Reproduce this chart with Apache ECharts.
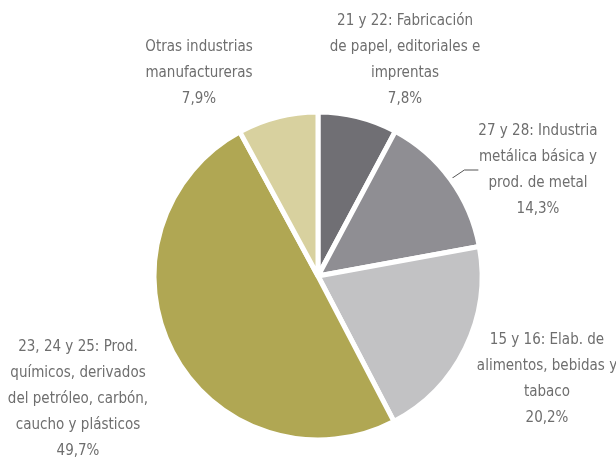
<!DOCTYPE html>
<html>
<head>
<meta charset="utf-8">
<script src="https://cdn.jsdelivr.net/npm/echarts@6/dist/echarts.min.js"></script>
<style>
  html, body { margin: 0; padding: 0; background: #fff; }
  #chart { width: 616px; height: 458px; }
</style>
</head>
<body>
<div id="chart"></div>
<script>
// categorías y porcentajes (en sentido horario desde las 12)
const categories = [
  '21 y 22: Fabricación\nde papel, editoriales e\nimprentas',
  '27 y 28: Industria\nmetálica básica y\nprod. de metal',
  '15 y 16: Elab. de\nalimentos, bebidas y\ntabaco',
  '23, 24 y 25: Prod.\nquímicos, derivados\ndel petróleo, carbón,\ncaucho y plásticos',
  'Otras industrias\nmanufactureras'
]
const shares = [7.8, 14.3, 20.2, 49.7, 7.9]
const colors = ['#706f74', '#8f8e93', '#c2c2c4', '#b0a753', '#d8d19f']

// posición de cada etiqueta (centro del bloque de texto)
const labelPos = [
  [405, 60],
  [538, 170],
  [547, 379],
  [78, 399],
  [199, 73]
]

const myChart = echarts.init(document.getElementById('chart'))

const fmt = v => v.toFixed(1).replace('.', ',') + '%'

const options = {
  animation: false,
  series: [{
    type: 'pie',
    center: [318, 276],
    radius: 164,
    startAngle: 90,
    clockwise: true,
    data: categories.map((name, i) => ({
      name: name,
      value: shares[i],
      itemStyle: { color: colors[i] },
      labelLine: { show: i === 1 }
    })),
    itemStyle: {
      borderColor: '#ffffff',
      borderWidth: 5
    },
    label: {
      show: true,
      position: 'outside',
      formatter: p => p.name + '\n' + fmt(p.value),
      color: '#6e6e6e',
      fontFamily: '"Liberation Sans Narrow", "DejaVu Sans Condensed", sans-serif',
      fontSize: 15,
      lineHeight: 26,
      align: 'center',
      overflow: 'none'
    },
    labelLine: {
      lineStyle: { color: '#555', width: 1 },
      length: 10,
      length2: 14
    },
    labelLayout: params => {
      const pos = labelPos[params.dataIndex]
      return {
        x: pos[0],
        y: pos[1],
        align: 'center',
        verticalAlign: 'middle'
      }
    }
  }]
}

myChart.setOption(options)
</script>
</body>
</html>
